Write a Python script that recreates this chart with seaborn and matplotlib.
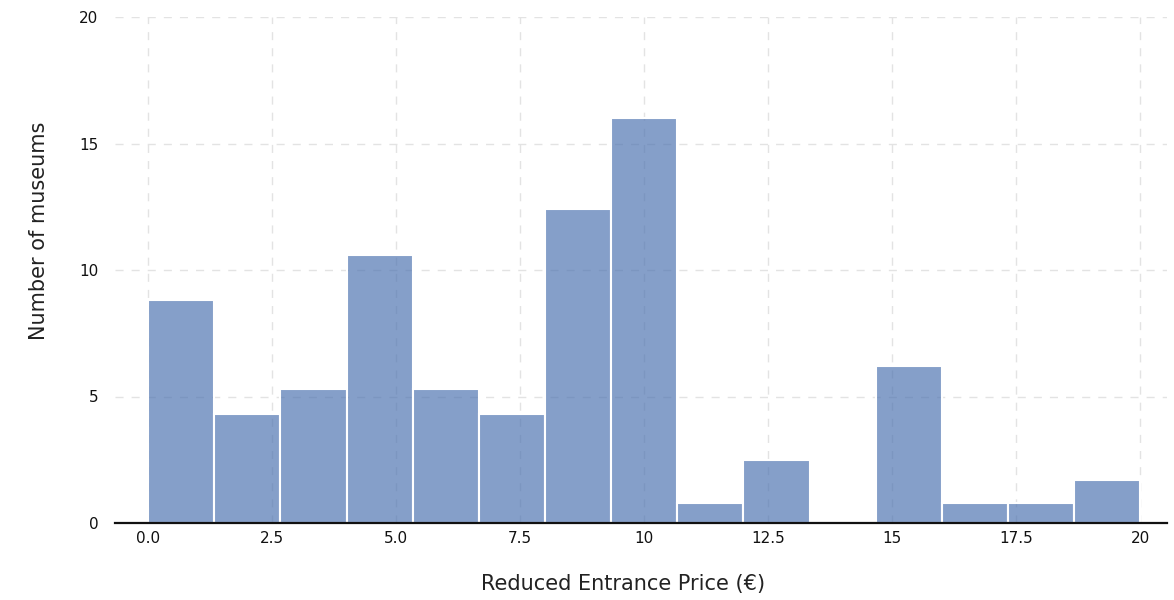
import numpy as np
import pandas as pd
import matplotlib
matplotlib.use("Agg")
import matplotlib.pyplot as plt
import seaborn as sns

# Histogram of reduced entrance prices: 15 equal bins between 0 and 20 EUR
price_min = 0.0
price_max = 20.0
n_bins = 15
museum_counts = [8.8, 4.3, 5.3, 10.6, 5.3, 4.3, 12.4, 16.0, 0.8, 2.5, 0.0, 6.2, 0.8, 0.8, 1.7]

x_ticks = [0, 2.5, 5, 7.5, 10, 12.5, 15, 17.5, 20]
x_tick_labels = ["0.0", "2.5", "5.0", "7.5", "10", "12.5", "15", "17.5", "20"]
y_ticks = [0, 5, 10, 15, 20]
y_tick_labels = ["0", "5", "10", "15", "20"]

bin_edges = np.linspace(price_min, price_max, n_bins + 1)
bin_centers = (bin_edges[:-1] + bin_edges[1:]) / 2
df = pd.DataFrame({"price": bin_centers, "count": museum_counts})

sns.set_theme(style="white")
plt.rcParams["font.family"] = ["DejaVu Sans"]

fig = plt.figure(figsize=(11.74, 6.0), dpi=100)
ax = fig.add_axes([115 / 1174, 1 - 523 / 600, (1167 - 115) / 1174, (523 - 17) / 600])

sns.histplot(
    data=df, x="price", weights="count", bins=n_bins,
    binrange=(price_min, price_max),
    color="#4c72b0", alpha=0.68, edgecolor="white", linewidth=1.5, ax=ax,
)

ax.set_xlim(-0.67, 20.54)
ax.set_ylim(0, 20)

ax.set_xticks(x_ticks)
ax.set_xticklabels(x_tick_labels)
ax.set_yticks(y_ticks)
ax.set_yticklabels(y_tick_labels)
ax.tick_params(axis="both", length=0, labelsize=11, colors="#111111")
ax.tick_params(axis="y", pad=12)
ax.tick_params(axis="x", pad=6)

ax.grid(True, color="#e3e3e3", linestyle=(0, (5.8, 5.8)), linewidth=1.0)
ax.set_axisbelow(True)

for side in ["left", "right", "top"]:
    ax.spines[side].set_visible(False)
ax.spines["bottom"].set_color("#111111")
ax.spines["bottom"].set_linewidth(1.6)

ax.set_xlabel("Reduced Entrance Price (€)", fontsize=15, color="#222222", labelpad=20)
ax.set_ylabel("Number of museums", fontsize=15, color="#222222", labelpad=22)
ax.xaxis.label.set_x(0.483)
ax.yaxis.label.set_y(0.577)

fig.savefig("out.png", dpi=100)
